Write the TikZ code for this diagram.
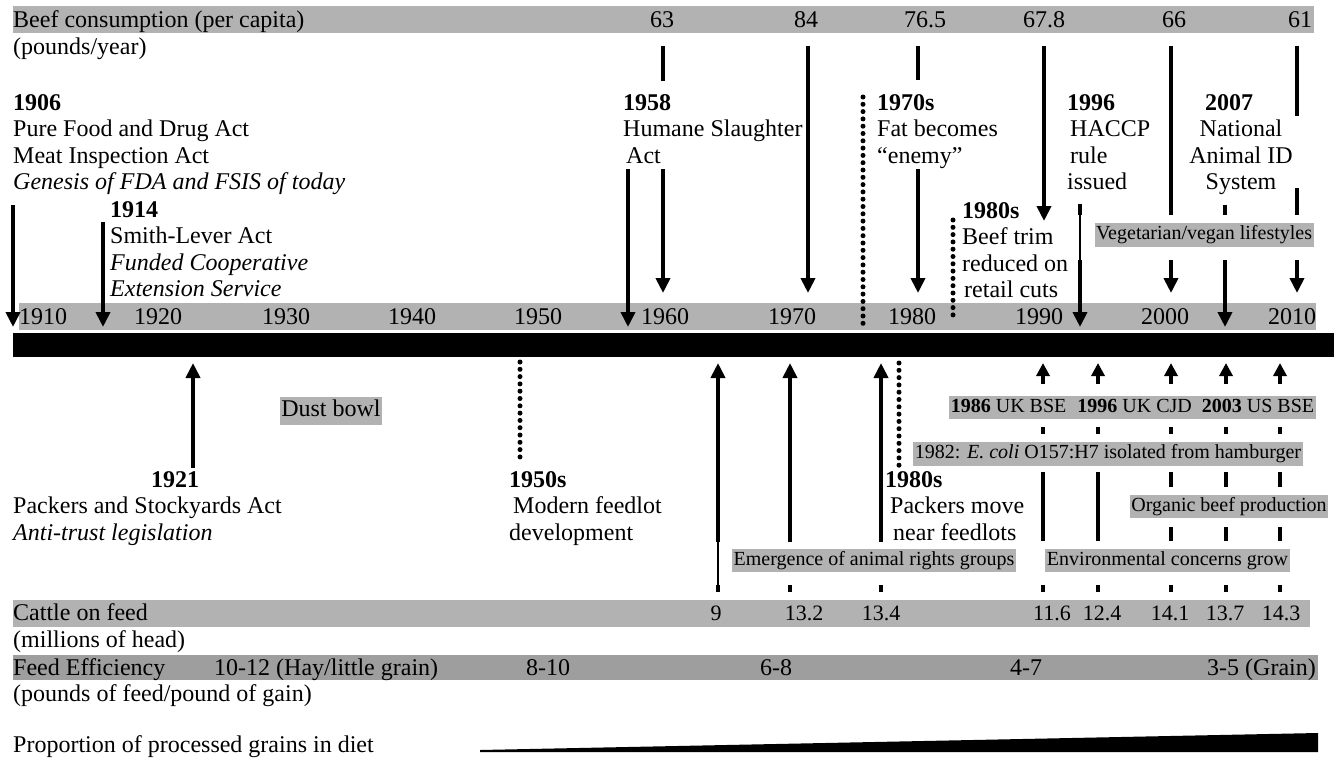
\documentclass[tikz,border=0pt]{standalone}
\usepackage{fontspec}
\setmainfont{Liberation Serif}
\usepackage{tikz}
\usetikzlibrary{arrows.meta}
\definecolor{bandgray}{gray}{0.70}
\definecolor{feedgray}{gray}{0.62}
\tikzset{
  lbl/.style={inner sep=0pt, anchor=base west, align=left},
  num/.style={inner sep=0pt, anchor=base},
  band/.style={fill=bandgray, inner sep=0pt, anchor=north west},
  tag/.style={fill=bandgray, inner xsep=1.5pt, inner ysep=2.5pt, text height=14pt, text depth=4.5pt, font=\fontsize{20}{24}\selectfont},
  arr/.style={line width=4pt, -{Triangle[length=15pt,width=14pt]}},
  shortarr/.style={line width=4.5pt, -{Triangle[length=13pt,width=13pt]}},
  stem/.style={line width=4pt},
  dotline/.style={line width=5pt, line cap=round, dash pattern=on 0pt off 7.3pt},
  hair/.style={line width=1.2pt}
}

\begin{document}
\begin{tikzpicture}[x=1pt, y=-1pt, font=\fontsize{24}{26.5}\selectfont]
\useasboundingbox (0,0) rectangle (1335,760);

\node[band, minimum width=1301pt, minimum height=27pt] (beef) at (13,6) {};
\node[band, minimum width=1297pt, minimum height=27pt] (years) at (19,303) {};
\node[band, fill=black, minimum width=1321pt, minimum height=24pt] (timeline) at (13,333) {};
\node[band, minimum width=1297pt, minimum height=27pt] (cattle) at (13,600) {};
\node[band, fill=feedgray, minimum width=1305pt, minimum height=25pt] (feed) at (13,655) {};
\fill (480,750) -- (1318,733) -- (1318,752) -- (480,752) -- cycle;

\node[lbl] (beeftitle) at (13,28) {Beef consumption (per capita)};
\node[lbl] (beefunit) at (13,55) {(pounds/year)};
\node[num] (b63) at (662,28) {63};
\node[num] (b84) at (806,28) {84};
\node[num] (b765) at (925,28) {76.5};
\node[num] (b678) at (1044,28) {67.8};
\node[num] (b66) at (1174,28) {66};
\node[num] (b61) at (1300,28) {61};

\node[num] (y1910) at (43,324) {1910};
\node[num] (y1920) at (158,324) {1920};
\node[num] (y1930) at (286,324) {1930};
\node[num] (y1940) at (412,324) {1940};
\node[num] (y1950) at (538,324) {1950};
\node[num] (y1960) at (665,324) {1960};
\node[num] (y1970) at (792,324) {1970};
\node[num] (y1980) at (912,324) {1980};
\node[num] (y1990) at (1039,324) {1990};
\node[num] (y2000) at (1165,324) {2000};
\node[num] (y2010) at (1292,324) {2010};

\node[lbl] (e1906) at (13,189.5) {\textbf{1906}\\Pure Food and Drug Act\\Meat Inspection Act\\\textit{Genesis of FDA and FSIS of today}};
\node[lbl] (e1914) at (110,296.5) {\textbf{1914}\\Smith-Lever Act\\\textit{Funded Cooperative}\\\textit{Extension Service}};
\node[lbl] (e1958) at (623,163) {\textbf{1958}\\Humane Slaughter\\\hspace{3pt}Act};
\node[lbl] (e1970) at (877,163) {\textbf{1970s}\\Fat becomes\\``enemy''};
\node[lbl] (e1980trim) at (962,297.5) {\textbf{1980s}\\Beef trim\\reduced on\\\hspace{2pt}retail cuts};
\node[lbl] (e1996) at (1067,189.5) {\textbf{1996}\\\hspace{3pt}HACCP\\\hspace{3pt}rule\\issued};
\node[lbl] (e2007) at (1205,110) {\textbf{2007}};
\node[num, align=center] (e2007text) at (1241,189.5) {National\\Animal ID\\System};
\node[tag] (veg) at (1204,235) {Vegetarian/vegan lifestyles};

\node[tag, font=\fontsize{24}{26.5}\selectfont, text height=16pt, text depth=5pt, inner ysep=3.5pt] (dust) at (331,411) {Dust bowl};
\node[num] (e1921) at (175,487) {\textbf{1921}};
\node[lbl] (e1921text) at (13,540) {Packers and Stockyards Act\\\textit{Anti-trust legislation}};
\node[lbl] (e1950) at (509,540) {\textbf{1950s}\\\hspace{4pt}Modern feedlot\\development};
\node[lbl] (e1980pack) at (885,540) {\textbf{1980s}\\\hspace{5pt}Packers move\\\hspace{8pt}near feedlots};
\node[tag] (bse) at (1132.5,407.5) {\textbf{1986} UK BSE\hspace{11pt}\textbf{1996} UK CJD\hspace{10pt}\textbf{2003} US BSE};
\node[tag] (ecoli) at (1108,454) {1982: \textit{E. coli} O157:H7 isolated from hamburger};
\node[tag] (organic) at (1229,506.5) {Organic beef production};
\node[tag] (rights) at (874,560.5) {Emergence of animal rights groups};
\node[tag] (enviro) at (1167.5,560.5) {Environmental concerns grow};

\node[lbl] (cattletitle) at (13,620) {Cattle on feed};
\node[lbl] (cattleunit) at (13,647) {(millions of head)};
\node[num, font=\fontsize{22}{26}\selectfont] (c9) at (716,620) {9};
\node[num, font=\fontsize{22}{26}\selectfont] (c132) at (804,620) {13.2};
\node[num, font=\fontsize{22}{26}\selectfont] (c134) at (881,620) {13.4};
\node[num, font=\fontsize{22}{26}\selectfont] (c116) at (1052,620) {11.6};
\node[num, font=\fontsize{22}{26}\selectfont] (c124) at (1102,620) {12.4};
\node[num, font=\fontsize{22}{26}\selectfont] (c141) at (1170,620) {14.1};
\node[num, font=\fontsize{22}{26}\selectfont] (c137) at (1225,620) {13.7};
\node[num, font=\fontsize{22}{26}\selectfont] (c143) at (1281,620) {14.3};

\node[lbl] (feedtitle) at (13,675) {Feed Efficiency};
\node[lbl] (f1012) at (214,675) {10-12 (Hay/little grain)};
\node[lbl] (f810) at (526,675) {8-10};
\node[num] (f68) at (776,675) {6-8};
\node[num] (f47) at (1026,675) {4-7};
\node[inner sep=0pt, anchor=base east] (f35) at (1316,675) {3-5 (Grain)};
\node[lbl] (feedunit) at (13,701) {(pounds of feed/pound of gain)};
\node[lbl] (grains) at (13,752) {Proportion of processed grains in diet};

\coordinate (resume) at (0,169);
\coordinate (vegup) at (0,215);
\coordinate (vegdown) at (0,260);
\coordinate (tipA) at (0,293);
\coordinate (tipB) at (0,327);
\coordinate (k1906) at (13,205);
\coordinate (k1914) at (103,222);
\coordinate (k1958) at (628,169);
\coordinate (k63) at (663,46);
\coordinate (k84) at (808,46);
\coordinate (k1970) at (863,97);
\coordinate (k765) at (918,46);
\coordinate (k1980) at (953,220);
\coordinate (k678) at (1044,46);
\coordinate (k1996) at (1080,204);
\coordinate (k66) at (1171,46);
\coordinate (k2007) at (1225,205);
\coordinate (k61) at (1297,46);

\draw[arr] (k1906) -- (k1906 |- tipB);
\draw[arr] (k1914) -- (k1914 |- tipB);
\draw[arr] (k1958) -- (k1958 |- tipB);
\draw[stem] (k63) -- ++(0,35);
\draw[arr] (k63 |- resume) -- (k63 |- tipA);
\draw[arr] (k84) -- (k84 |- tipA);
\draw[dotline] (k1970) -- ++(0,228);
\draw[stem] (k765) -- ++(0,34);
\draw[arr] (k765 |- resume) -- (k765 |- tipA);
\draw[arr] (k678) -- ++(0,175);
\draw[dotline] (k1980) -- ++(0,98);
\draw[stem] (k1996) -- ++(0,11);
\draw[hair] (k1996) -- (k1996 |- vegdown);
\draw[arr] (k1996 |- vegdown) -- (k1996 |- tipB);
\draw[stem] (k66) -- (k66 |- vegup);
\draw[arr] (k66 |- vegdown) -- (k66 |- tipA);
\draw[stem] (k2007) -- (k2007 |- vegup);
\draw[arr] (k2007 |- vegdown) -- (k2007 |- tipB);
\draw[stem] (k61) -- ++(0,70);
\draw[stem] ([yshift=-142pt]k61) -- (k61 |- vegup);
\draw[arr] (k61 |- vegdown) -- (k61 |- tipA);

\coordinate (tipU) at (0,363);
\coordinate (tickA) at (0,427);
\coordinate (tickB) at (0,434);
\coordinate (runA) at (0,472);
\coordinate (runB) at (0,487);
\coordinate (runC) at (0,527);
\coordinate (runD) at (0,541);
\coordinate (tickC) at (0,585);
\coordinate (tickD) at (0,592);
\coordinate (k1921) at (193,468);
\coordinate (k1950) at (520,362);
\coordinate (k9) at (718,542);
\coordinate (k132) at (790,542);
\coordinate (k134) at (881,542);
\coordinate (k1980p) at (899,363);
\coordinate (k86) at (1043,384);
\coordinate (k96) at (1098,384);
\coordinate (k00) at (1171,384);
\coordinate (k03) at (1226,384);
\coordinate (k10) at (1280,384);

\draw[arr] (k1921) -- (k1921 |- tipU);
\draw[dotline] (k1950) -- ++(0,95);
\draw[arr] (k9) -- (k9 |- tipU);
\draw[hair] (k9) -- (k9 |- tickD);
\draw[stem] (k9 |- tickC) -- (k9 |- tickD);
\draw[arr] (k132) -- (k132 |- tipU);
\draw[stem] (k132 |- tickC) -- (k132 |- tickD);
\draw[arr] (k134) -- (k134 |- tipU);
\draw[stem] (k134 |- tickC) -- (k134 |- tickD);
\draw[dotline] (k1980p) -- ++(0,104);

\draw[shortarr] (k86) -- (k86 |- tipU);
\draw[stem] (k86 |- tickA) -- (k86 |- tickB);
\draw[stem] (k86 |- runA) -- (k86 |- runD);
\draw[stem] (k86 |- tickC) -- (k86 |- tickD);
\draw[shortarr] (k96) -- (k96 |- tipU);
\draw[stem] (k96 |- tickA) -- (k96 |- tickB);
\draw[stem] (k96 |- runA) -- (k96 |- runD);
\draw[stem] (k96 |- tickC) -- (k96 |- tickD);
\draw[shortarr] (k00) -- (k00 |- tipU);
\draw[stem] (k00 |- tickA) -- (k00 |- tickB);
\draw[stem] (k00 |- runA) -- (k00 |- runB);
\draw[stem] (k00 |- runC) -- (k00 |- runD);
\draw[stem] (k00 |- tickC) -- (k00 |- tickD);
\draw[shortarr] (k03) -- (k03 |- tipU);
\draw[stem] (k03 |- tickA) -- (k03 |- tickB);
\draw[stem] (k03 |- runA) -- (k03 |- runB);
\draw[stem] (k03 |- runC) -- (k03 |- runD);
\draw[stem] (k03 |- tickC) -- (k03 |- tickD);
\draw[shortarr] (k10) -- (k10 |- tipU);
\draw[stem] (k10 |- tickA) -- (k10 |- tickB);
\draw[stem] (k10 |- runA) -- (k10 |- runB);
\draw[stem] (k10 |- runC) -- (k10 |- runD);
\draw[stem] (k10 |- tickC) -- (k10 |- tickD);
\end{tikzpicture}
\end{document}
